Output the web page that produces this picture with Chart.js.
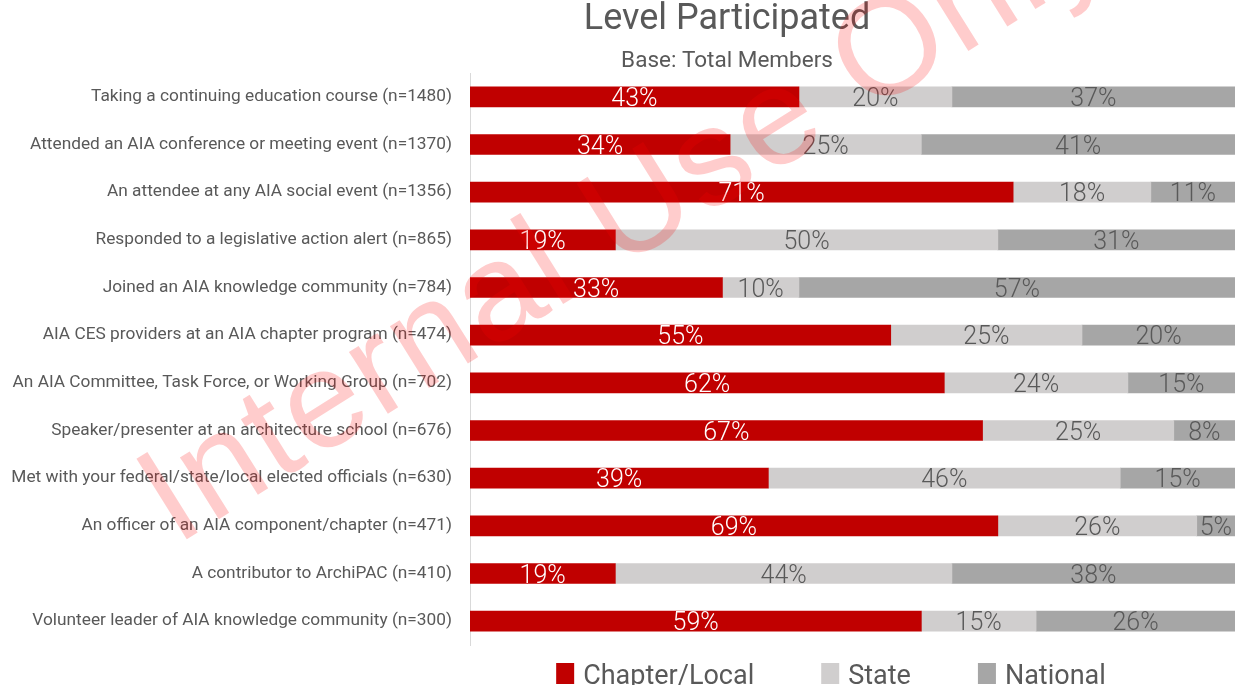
<!DOCTYPE html>
<html>
<head>
<meta charset="utf-8">
<script src="https://cdn.jsdelivr.net/npm/chart.js@4/dist/chart.umd.min.js"></script>
<style>
  html, body { margin: 0; padding: 0; background: #ffffff; }
  #wrap { width: 1235px; height: 685px; }
</style>
</head>
<body>
<div id="wrap"><canvas id="c" width="1235" height="685"></canvas></div>
<script>
const titleText = 'Level Participated';
const subtitleText = 'Base: Total Members';
const watermarkText = 'Internal Use Only';

const categories = [
  'Taking a continuing education course (n=1480)',
  'Attended an AIA conference or meeting event (n=1370)',
  'An attendee at any AIA social event (n=1356)',
  'Responded to a legislative action alert (n=865)',
  'Joined an AIA knowledge community (n=784)',
  'AIA CES providers at an AIA chapter program (n=474)',
  'An AIA Committee, Task Force, or Working Group (n=702)',
  'Speaker/presenter at an architecture school (n=676)',
  'Met with your federal/state/local elected officials (n=630)',
  'An officer of an AIA component/chapter (n=471)',
  'A contributor to ArchiPAC (n=410)',
  'Volunteer leader of AIA knowledge community (n=300)'
];
const seriesNames = ['Chapter/Local', 'State', 'National'];
const chapterLocal = [43, 34, 71, 19, 33, 55, 62, 67, 39, 69, 19, 59];
const stateLevel   = [20, 25, 18, 50, 10, 25, 24, 25, 46, 26, 44, 15];
const nationalLevel= [37, 41, 11, 31, 57, 20, 15,  8, 15,  5, 38, 26];

const colors = ['#C00000', '#D0CECE', '#A6A6A6'];
const labelColors = ['#FFFFFF', '#595959', '#595959'];
const FONT = 'Roboto, "Liberation Sans", sans-serif';

const decorPlugin = {
  id: 'decor',
  afterDatasetsDraw(chart) {
    const ctx = chart.ctx;
    const area = chart.chartArea;
    ctx.save();
    ctx.font = '300 25px ' + FONT;
    ctx.textAlign = 'center';
    ctx.textBaseline = 'middle';
    chart.data.datasets.forEach((ds, di) => {
      const meta = chart.getDatasetMeta(di);
      meta.data.forEach((bar, i) => {
        const x1 = Math.min(bar.x, area.right);
        const x0 = bar.base;
        ctx.fillStyle = labelColors[di];
        ctx.fillText(ds.data[i] + '%', (x0 + x1) / 2, bar.y + 3);
      });
    });
    ctx.restore();
  },
  afterDraw(chart) {
    const ctx = chart.ctx;
    ctx.save();
    // title + subtitle
    ctx.fillStyle = '#595959';
    ctx.textAlign = 'center';
    ctx.textBaseline = 'alphabetic';
    ctx.font = '400 36px ' + FONT;
    ctx.fillText(titleText, 727, 29);
    ctx.font = '400 22.5px ' + FONT;
    ctx.fillText(subtitleText, 727, 67);

    // legend
    ctx.font = '400 27px ' + FONT;
    ctx.textAlign = 'left';
    const boxW = 18, gapText = 9, gapItem = 67;
    const widths = seriesNames.map(n => ctx.measureText(n).width);
    let total = 0;
    widths.forEach(w => total += boxW + gapText + w);
    total += gapItem * (seriesNames.length - 1);
    let x = 831 - total / 2;
    seriesNames.forEach((n, i) => {
      ctx.fillStyle = colors[i];
      ctx.fillRect(x, 663, boxW, 21);
      ctx.fillStyle = '#595959';
      ctx.fillText(n, x + boxW + gapText, 684);
      x += boxW + gapText + widths[i] + gapItem;
    });

    // watermark
    ctx.font = '400 138px "Liberation Sans", Arial, sans-serif';
    ctx.letterSpacing = '2.5px';
    ctx.fillStyle = 'rgba(255, 0, 0, 0.2)';
    ctx.translate(176, 546);
    ctx.rotate(-32 * Math.PI / 180);
    ctx.textAlign = 'left';
    ctx.fillText(watermarkText, 0, 0);
    ctx.restore();
  }
};

new Chart(document.getElementById('c'), {
  type: 'bar',
  data: {
    labels: categories,
    datasets: [
      { label: seriesNames[0], data: chapterLocal, backgroundColor: colors[0] },
      { label: seriesNames[1], data: stateLevel, backgroundColor: colors[1] },
      { label: seriesNames[2], data: nationalLevel, backgroundColor: colors[2] }
    ]
  },
  options: {
    indexAxis: 'y',
    responsive: false,
    animation: false,
    datasets: { bar: { barThickness: 20, borderWidth: 0 } },
    layout: { padding: { top: 73, bottom: 40, left: 0, right: 0 } },
    scales: {
      x: { stacked: true, display: false, min: 0, max: 100 },
      y: {
        stacked: true,
        grid: { display: false, drawTicks: false },
        border: { display: true, color: '#D9D9D9', width: 1 },
        ticks: { color: '#595959', font: { family: FONT, size: 17.3 }, padding: 18 },
        afterFit(scale) { scale.width = 470; }
      }
    },
    plugins: { legend: { display: false }, title: { display: false }, tooltip: { enabled: false } }
  },
  plugins: [decorPlugin]
});
</script>
</body>
</html>
